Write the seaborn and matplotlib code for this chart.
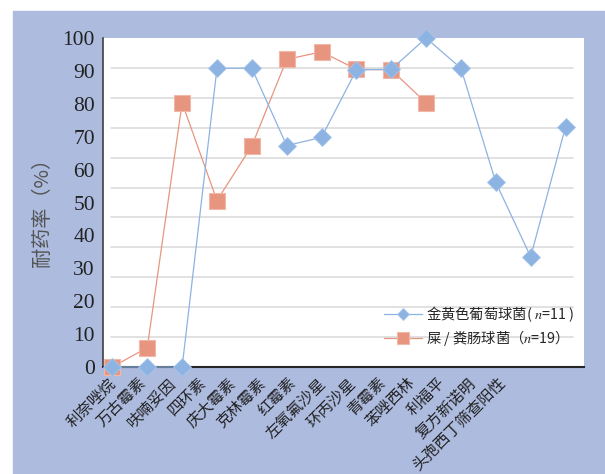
import numpy as np
import pandas as pd
import matplotlib
matplotlib.use("Agg")
import matplotlib.pyplot as plt
import seaborn as sns
from matplotlib.patches import Rectangle

# ---- 数据 ----
drugs = ['利奈唑烷', '万古霉素', '呋喃妥因', '四环素', '庆大霉素', '克林霉素', '红霉素',
         '左氧氟沙星', '环丙沙星', '青霉素', '苯唑西林', '利福平', '复方新诺明', '头孢西丁筛查阳性']
staph = [0, 0, 0, 90.8, 90.8, 67.3, 69.8, 90.3, 90.5, 100, 90.8, 56.1, 33.5, 73.0]
entero = [0, 5.9, 80.3, 50.6, 67.2, 93.5, 95.8, 90.5, 90.3, 80.3,
          np.nan, np.nan, np.nan, np.nan]
y_ticks = list(range(0, 101, 10))
label_staph = '金黄色葡萄球菌( $n$=11 )'
label_entero = '屎 / 粪肠球菌（$n$=19）'
y_title = '耐药率（%）'

# ---- 样式 ----
sns.set_style("white")
plt.rcParams['font.family'] = ['Noto Sans CJK SC', 'DejaVu Sans']
plt.rcParams['mathtext.fontset'] = 'stix'

BG = '#adbbdf'
BLUE = '#8db3e2'
RED = '#e8957f'
GRID_STEP = 100 / 11      # 原图网格线间距与刻度不一致
LABEL_X0, LABEL_STEP = -0.15, 0.86

df = pd.DataFrame({'pos': np.arange(len(drugs)), 'staph': staph, 'entero': entero})

fig = plt.figure(figsize=(6.05, 4.74), dpi=100)
fig.patch.set_facecolor('white')
fig.patches.append(Rectangle((13 / 605, 0), 592 / 605, 463 / 474,
                             transform=fig.transFigure, color=BG, zorder=-10))
ax = fig.add_axes([103 / 605, 107 / 474, 481 / 605, 329 / 474])
ax.set_facecolor('white')

for k in range(1, 11):
    ax.axhline(k * GRID_STEP, xmin=0.017, xmax=0.977, color='#d9d9d9', lw=1.1, zorder=0)

sns.lineplot(data=df, x='pos', y='entero', ax=ax, color=RED, lw=0.9,
             marker='s', markersize=12, markeredgecolor='#f0b8a8', markeredgewidth=0.8,
             label=label_entero, clip_on=False, zorder=3)
sns.lineplot(data=df, x='pos', y='staph', ax=ax, color=BLUE, lw=0.9,
             marker='D', markersize=8.7, markeredgecolor='#a9c6ea', markeredgewidth=0.6,
             label=label_staph, clip_on=False, zorder=4)

ax.set_xlim(-0.27, 13.53)
ax.set_ylim(0, 100)
ax.set_yticks(y_ticks)
ax.set_yticklabels([str(v) for v in y_ticks], fontfamily='Liberation Serif',
                   fontsize=15.5, color='#222222')
ax.tick_params(axis='y', length=0, pad=5.8)

label_pos = LABEL_X0 + LABEL_STEP * np.arange(len(drugs))
ax.set_xticks(label_pos)
ax.set_xticklabels(drugs, rotation=45, ha='right', va='top', rotation_mode='anchor',
                   fontsize=11.2, color='#222222')
ax.tick_params(axis='x', length=0, pad=5.5)

ax.set_xlabel('')
ax.set_ylabel(y_title, fontsize=14.5, color='#555555')
ax.yaxis.set_label_coords(-0.104, 0.486)

for s in ['top', 'right']:
    ax.spines[s].set_visible(False)
ax.spines['left'].set_color('#404040')
ax.spines['left'].set_linewidth(1.2)
ax.spines['bottom'].set_color('#262626')
ax.spines['bottom'].set_linewidth(1.5)
ax.grid(False)

handles, labels = ax.get_legend_handles_labels()
ax.legend([handles[1], handles[0]], [labels[1], labels[0]],
          loc='upper left', bbox_to_anchor=(383 / 605, 1 - 303 / 474),
          bbox_transform=fig.transFigure, frameon=False, fontsize=10.3,
          markerscale=0.7, handlelength=2.6, handletextpad=0.3,
          labelspacing=0.3, borderpad=0.1, borderaxespad=0)

fig.savefig('out.png', dpi=100)
